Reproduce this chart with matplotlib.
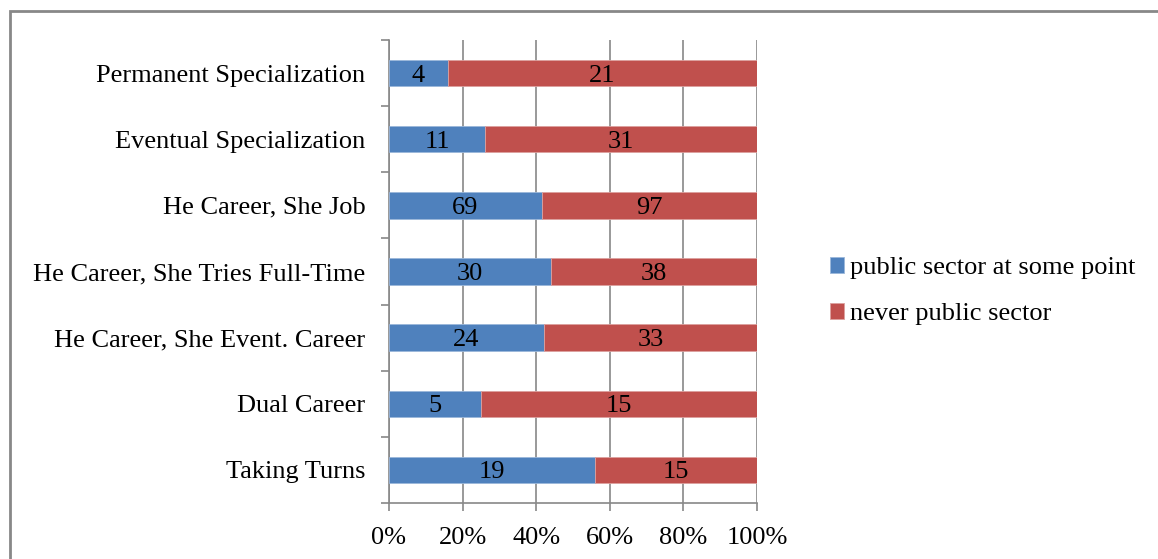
import matplotlib
matplotlib.use("Agg")
import matplotlib.pyplot as plt
from matplotlib.patches import Rectangle
import numpy as np

categories = [
    "Permanent Specialization",
    "Eventual Specialization",
    "He Career, She Job",
    "He Career, She Tries Full-Time",
    "He Career, She Event. Career",
    "Dual Career",
    "Taking Turns",
]
public_sector = [4, 11, 69, 30, 24, 5, 19]
never_public = [21, 31, 97, 38, 33, 15, 15]
series_names = ["public sector at some point", "never public sector"]
xtick_labels = ["0%", "20%", "40%", "60%", "80%", "100%"]

plt.rcParams["font.family"] = ["Liberation Serif", "DejaVu Serif"]
FS = 19

W, H = 1158, 559
fig = plt.figure(figsize=(W / 100, H / 100), dpi=100)
ax = fig.add_axes([389 / W, 1 - 503 / H, (757 - 389) / W, (503 - 40) / H])

pub = np.array(public_sector, dtype=float)
nev = np.array(never_public, dtype=float)
tot = pub + nev
pub_frac = pub / tot
nev_frac = nev / tot

n = len(categories)
y = np.arange(n)[::-1]
blue, red = "#4F81BD", "#C0504D"

ax.barh(y, pub_frac, height=0.4, color=blue, edgecolor="#9bb7da", linewidth=0.6,
        label=series_names[0], zorder=3)
ax.barh(y, nev_frac, left=pub_frac, height=0.4, color=red, edgecolor="#dca09e",
        linewidth=0.6, label=series_names[1], zorder=3)

for yi, p, pf, q, qf in zip(y, pub, pub_frac, nev, nev_frac):
    ax.text(pf / 2, yi, f"{int(p)}", ha="center", va="center_baseline", fontsize=FS, zorder=4)
    ax.text(pf + qf / 2, yi, f"{int(q)}", ha="center", va="center_baseline", fontsize=FS, zorder=4)

ax.set_xlim(0, 1)
ax.set_ylim(-0.5, n - 0.5)
ax.set_xticks(np.linspace(0, 1, 6))
ax.set_xticklabels(xtick_labels, fontsize=FS)
ax.set_yticks(y)
ax.set_yticklabels(categories, fontsize=FS)
ax.tick_params(axis="y", which="major", length=0, pad=17)
ax.set_yticks(np.arange(-0.5, n, 1.0), minor=True)
ax.tick_params(axis="y", which="minor", length=6, color="#888888", width=1.2)
ax.tick_params(axis="x", length=6, color="#888888", width=1.2, pad=11)

ax.grid(axis="x", color="#888888", linewidth=1.2, zorder=0)
for side in ("top", "right"):
    ax.spines[side].set_visible(False)
for side in ("left", "bottom"):
    ax.spines[side].set_color("#888888")
    ax.spines[side].set_linewidth(1.2)

leg = fig.legend(loc="upper left", bbox_to_anchor=(819 / W, 1 - 246 / H),
                 frameon=False, fontsize=FS, handlelength=0.56, handleheight=0.56,
                 handletextpad=0.2, labelspacing=0.9, borderaxespad=0)

# chart-area border
fig.patches.append(Rectangle((9.5 / W, -0.1), 1.2, 1 - 10.5 / H + 0.1,
                             transform=fig.transFigure, fill=False,
                             edgecolor="#888888", linewidth=2))

fig.savefig("out.png", dpi=100)
